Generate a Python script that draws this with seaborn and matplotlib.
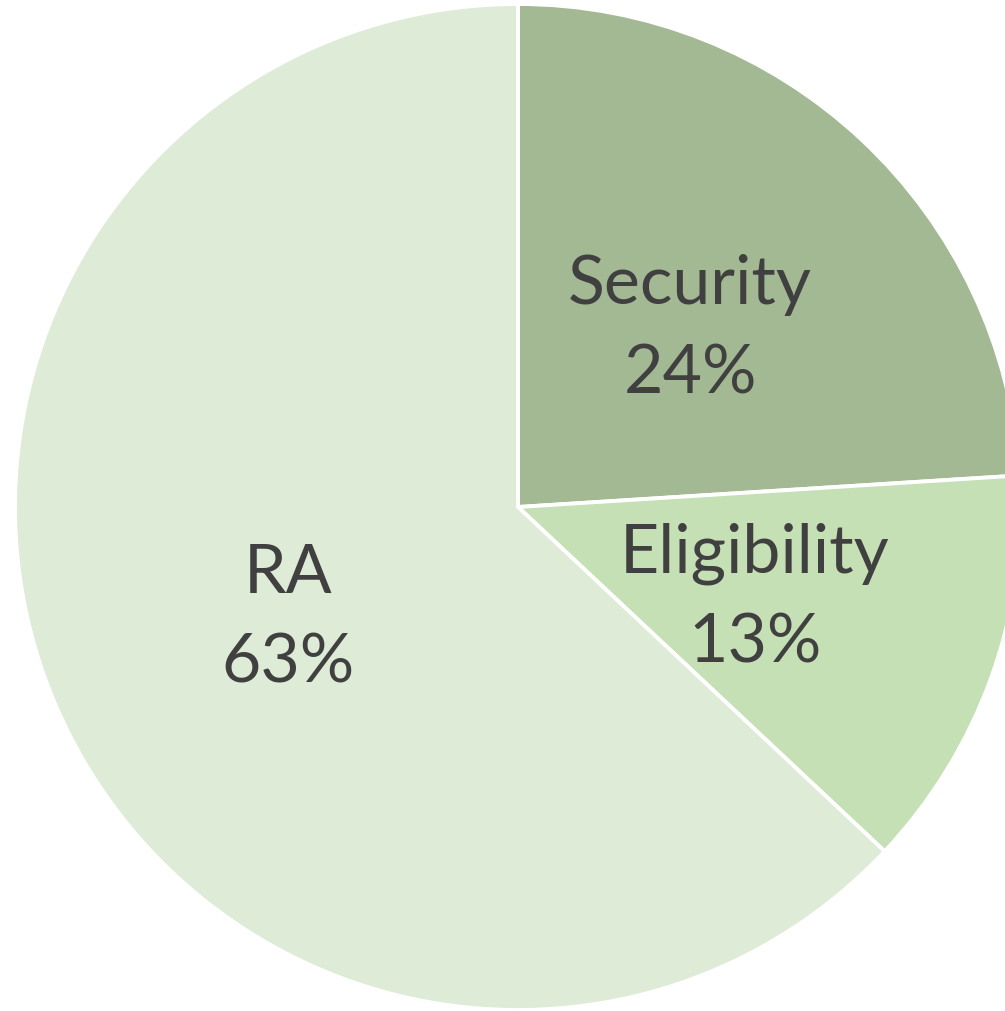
import matplotlib
matplotlib.use("Agg")
import matplotlib.pyplot as plt
import seaborn as sns

# data
categories = ["Security", "Eligibility", "RA"]
shares = [24, 13, 63]
colors = ["#A3B994", "#C5E0B4", "#DEEBD6"]

sns.set_theme(style="white")
plt.rcParams['font.family'] = ['Lato', 'DejaVu Sans']

fig = plt.figure(figsize=(10.05, 10.11), dpi=100)
ax = fig.add_axes([0, 0, 1, 1])

wedges, texts = ax.pie(shares, colors=colors, startangle=90, counterclock=False,
                       radius=1, center=(0, 0),
                       wedgeprops=dict(edgecolor="white", linewidth=2.8))

# label positions (fraction of radius) chosen per slice
label_pos = [(0.342, 0.352), (0.471, -0.182), (-0.457, -0.222)]
for name, val, (x, y) in zip(categories, shares, label_pos):
    ax.text(x, y, "{}\n{}%".format(name, val), ha="center", va="center",
            fontsize=49, color="#404040", linespacing=1.55)

# pixels: centre at (518, 507), radius 503
ax.set_xlim(-518 / 503, (1005 - 518) / 503)
ax.set_ylim(-(1011 - 507) / 503, 507 / 503)
ax.set_aspect("equal")
ax.axis("off")

fig.savefig("out.png", dpi=100, facecolor="white")
